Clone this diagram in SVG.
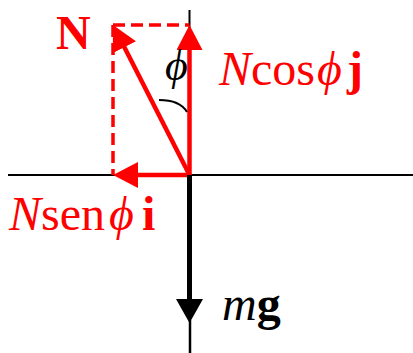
<svg xmlns="http://www.w3.org/2000/svg" width="413" height="353" viewBox="0 0 413 353">
<style>
.axis{stroke:#000;stroke-width:2;fill:none}
.red{stroke:#ff0000;stroke-width:4.5;fill:none}
.dash{stroke:#ff0000;stroke-width:3.5;fill:none;stroke-dasharray:12 6}
.t{font-family:"Liberation Serif","Times New Roman",serif;font-size:48px}
.rt{fill:#ff0000}
.it{font-style:italic}
.bd{font-weight:bold}
</style>
<defs>
<marker id="rh" markerUnits="userSpaceOnUse" markerWidth="25" markerHeight="26" viewBox="0 0 25 26" refX="5" refY="13" orient="auto">
<path d="M0,0 L25,13 L0,26 Z" fill="#ff0000"/>
</marker>
</defs>
<g id="axes">
<line class="axis" x1="8" y1="175" x2="413" y2="175"/>
<line class="axis" x1="189.5" y1="10" x2="189.5" y2="175"/>
</g>
<g id="connectors">
<line class="dash" x1="113" y1="25" x2="189.5" y2="25"/>
<line class="dash" x1="113" y1="25" x2="113" y2="175"/>
<line class="red" x1="189.5" y1="175" x2="189.5" y2="45" marker-end="url(#rh)"/>
<line class="red" x1="189.5" y1="175" x2="133" y2="175" marker-end="url(#rh)"/>
<line class="red" x1="189.5" y1="175" x2="122.1" y2="42.8" marker-end="url(#rh)"/>
<path d="M159,100 Q180,100 187,112" stroke="#000" stroke-width="2" fill="none"/>
<line x1="189.5" y1="175" x2="189.5" y2="301" stroke="#000" stroke-width="5"/>
<polygon points="176,299 203,299 189.5,323" fill="#000"/>
<line x1="190" y1="320" x2="190" y2="353" stroke="#000" stroke-width="2.5"/>
</g>
<g id="label-N"><text class="t rt bd" x="56" y="49">N</text></g>
<g id="label-phi"><text class="t it" x="165" y="80" style="font-size:44px">ϕ</text></g>
<g id="label-Ncos"><text class="t rt" x="219" y="85"><tspan class="it">N</tspan>cos<tspan class="it" x="317">ϕ</tspan><tspan class="bd" x="347">j</tspan></text></g>
<g id="label-Nsen"><text class="t rt" x="9" y="230"><tspan class="it">N</tspan>sen<tspan class="it" x="109">ϕ</tspan><tspan class="bd" x="142">i</tspan></text></g>
<g id="label-mg"><text class="t" x="222" y="320"><tspan class="it">m</tspan><tspan class="bd">g</tspan></text></g>
</svg>
